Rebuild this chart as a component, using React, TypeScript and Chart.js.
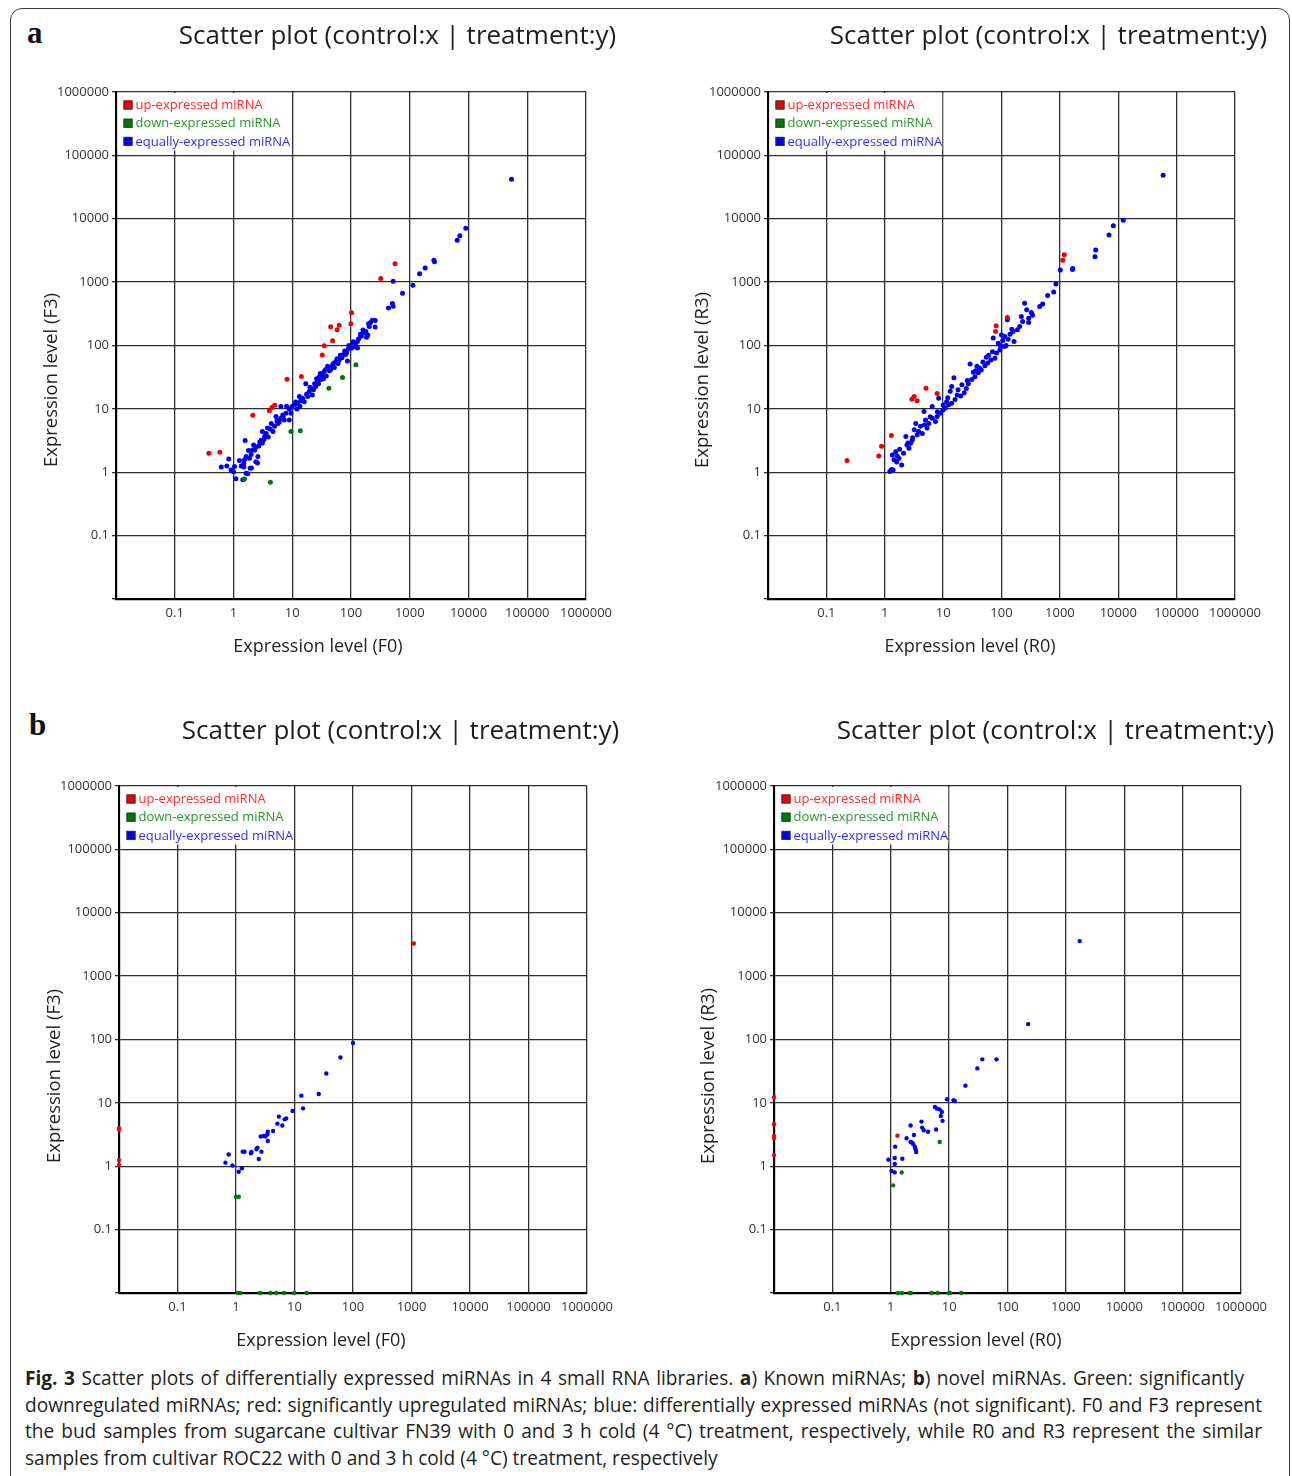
import React, { useEffect, useRef } from 'react';
import { Chart, registerables } from 'chart.js';

Chart.register(...registerables);

type Pt = [number, number];

// ---------- axis, ticks, labels ----------
const AXIS_MIN = 0.01;
const AXIS_MAX = 1000000;
const DECADES = [0.01, 0.1, 1, 10, 100, 1000, 10000, 100000, 1000000];
const DECADE_LABELS = ['', '0.1', '1', '10', '100', '1000', '10000', '100000', '1000000'];
const SERIES_LABELS = ['up-expressed miRNA', 'down-expressed miRNA', 'equally-expressed miRNA'];
const PLOT_TITLE = 'Scatter plot (control:x | treatment:y)';
const X_TITLES = ['Expression level (F0)', 'Expression level (R0)'];
const Y_TITLES = ['Expression level (F3)', 'Expression level (R3)'];

// ---------- (a) known miRNAs, FN39: F0 (x) vs F3 (y) ----------
const knownF_up: Pt[] = [
  [562, 1950], [321, 1143], [102, 328], [99.5, 220], [45, 197], [63, 209], [58, 177], [48.6, 118.5],
  [35, 99], [32.4, 71], [14.3, 32.4], [8.15, 29.4], [5.03, 11.4], [4.53, 10.6], [4.08, 9.3],
  [2.13, 7.94], [0.586, 2.07], [0.381, 1.995],
];
const knownF_down: Pt[] = [
  [121, 49.5], [71.8, 31.2], [42, 21.2], [13.7, 4.5], [9.5, 4.39], [1.54, 0.785], [4.25, 0.695],
];
const knownF_equal: Pt[] = [
  [53900, 41900], [9000, 7060], [7110, 5410], [6430, 4560], [2570, 2210], [2640, 2100], [1830, 1670],
  [1470, 1360], [1130, 891], [753, 666], [522, 1030], [508, 458], [522, 415], [435, 390],
  [258, 248], [258, 195], [199, 220], [179, 166], [193, 147], [184, 135], [167, 157], [129, 116],
  [121, 109], [113, 96], [129, 91], [103, 91], [99.5, 96], [84, 76], [87, 57], [72, 71], [63, 59],
  [55, 56], [47, 47], [40, 47], [43, 40], [35, 39], [33, 34], [29, 32], [31, 29], [27, 27], [24, 25],
  [25, 22.5], [21, 21], [19.5, 18.8], [22, 16.6], [18.3, 15.7], [15, 14.7], [16, 13], [13.2, 15.7],
  [12.4, 12.3], [10.9, 11.6], [9.9, 10.9], [8.9, 9.9], [9.5, 8.5], [7.8, 8.5], [6.9, 8.0], [8.9, 6.7],
  [7.3, 6.7], [6.4, 7.1], [5.7, 5.9], [5.0, 5.3], [4.7, 4.4], [4.4, 5.9], [3.8, 5.0], [3.6, 4.1],
  [3.4, 3.7], [3.1, 4.4], [2.95, 3.2], [3.1, 2.9], [2.8, 3.0], [2.4, 2.5], [2.3, 2.25], [2.6, 1.77],
  [2.4, 1.47], [2.1, 2.25], [1.87, 1.66], [1.64, 1.77], [1.58, 3.16], [1.54, 1.57], [1.26, 1.53],
  [1.92, 1.16], [1.64, 0.96], [1.44, 0.76], [1.04, 1.23], [1.0, 1.02], [0.83, 1.62], [0.77, 1.26],
  [0.62, 1.21], [0.91, 1.09], [1.5, 1.39], [1.35, 1.26], [6.4, 10.9], [5.3, 7.6], [17, 25],
  [1.1, 0.79], [2.56, 1.4], [1.5, 1.21], [1.75, 0.95], [2.02, 1.17],
  [11.5, 12.8], [14, 13.5], [17.5, 17], [20, 22], [23, 20], [26, 30], [28, 25], [30, 36], [34, 30],
  [37, 42], [38, 33], [45, 42], [50, 52], [52, 45], [58, 62], [60, 52], [66, 70], [70, 64], [78, 82],
  [80, 72], [90, 88], [92, 100], [105, 103], [110, 115], [135, 128], [145, 150], [150, 140],
  [160, 175], [205, 200], [215, 230], [230, 250], [12, 10], [13.5, 11], [8, 11], [7, 7.5], [6, 6.2],
  [5.5, 6.5], [4.2, 4.8], [3.9, 3.6], [3.3, 3.3], [2.7, 2.6], [2.2, 2.7], [2, 1.9], [1.8, 2.2],
];

// ---------- (a) known miRNAs, ROC22: R0 (x) vs R3 (y) ----------
const knownR_up: Pt[] = [
  [1190, 2710], [1117, 2210], [126, 277], [81, 205], [79, 166], [5.1, 21.2], [7.9, 17.5],
  [3.19, 15.7], [2.92, 14.2], [3.59, 13.4], [1.3, 3.79], [0.88, 2.57], [0.79, 1.81], [0.226, 1.53],
];
const knownR_down: Pt[] = [];
const knownR_equal: Pt[] = [
  [58700, 48500], [12200, 9440], [8240, 7780], [6950, 5550], [4110, 3210], [4000, 2520],
  [1660, 1645], [1645, 1585], [1016, 1553], [857, 933], [783, 697], [617, 617], [507, 451], [451, 413],
  [324, 332], [249, 466], [270, 366], [219, 287], [292, 270], [292, 231], [205, 200], [187, 177],
  [158, 166], [164, 116], [114, 139], [100, 147], [88, 109], [111, 96], [94, 85], [82, 76], [72, 131],
  [77, 63], [66, 59], [58, 53], [52, 48], [45, 41], [40, 37], [38, 47], [29, 51], [35, 32], [31, 29],
  [27, 25], [25, 21], [21, 24], [23, 18], [20, 16], [17.4, 16.6], [15.3, 31], [14, 22.5], [13.2, 19],
  [16, 14], [14, 12.3], [12.4, 11.6], [10.9, 10.3], [9.9, 9.6], [8.4, 14.7], [9.0, 8.5], [7.9, 7.6],
  [7.4, 6.3], [6.5, 10.9], [6.5, 7.1], [5.7, 5.9], [5.0, 6.7], [5.3, 5.0], [4.7, 9.1], [4.4, 4.1],
  [4.1, 5.3], [3.8, 4.4], [3.6, 3.9], [3.2, 4.7], [2.95, 3.2], [2.77, 2.87], [2.6, 2.4], [2.3, 3.66],
  [2.4, 2.7], [2.1, 2.0], [1.95, 1.3], [1.75, 1.66], [1.64, 1.81], [1.54, 2.1], [1.44, 1.57],
  [1.35, 1.88], [1.39, 1.09], [1.3, 1.11], [1.22, 1.03], [3.4, 5.9], [126, 254],
  [60, 70], [70, 80], [95, 100], [105, 120], [130, 125], [140, 150], [120, 100], [48, 55], [33, 38],
  [26, 28], [18, 20], [11.5, 13], [8, 9], [6, 7.5], [4.8, 5.6], [3, 3.5], [2.5, 2.9], [1.8, 2.3],
  [1.6, 1.45], [55, 65], [42, 44], [36, 40], [12, 15], [10, 11.5], [150, 180], [230, 240], [340, 300],
];

// ---------- (b) novel miRNAs, FN39: F0 (x) vs F3 (y); 0 = not detected ----------
const novelF_up: Pt[] = [[1096, 3275], [0, 3.8], [0, 4.0], [0, 1.25], [0, 1.05]];
const novelF_down: Pt[] = [
  [1.0, 0.33], [1.12, 0.33], [1.08, 0], [1.17, 0], [2.57, 0], [3.85, 0], [4.87, 0], [6.6, 0],
  [9.9, 0], [16.1, 0],
];
const novelF_equal: Pt[] = [
  [100, 88], [61, 52], [35, 29], [26, 13.8], [13.1, 13], [14, 8.2], [9.25, 7.45], [5.4, 6.07],
  [7.2, 5.7], [6.8, 5.5], [5.1, 4.7], [6.2, 4.4], [4.3, 3.6], [3.5, 3.5], [3.44, 3.2], [3.2, 2.94],
  [3.5, 2.5], [2.65, 2.94], [3.0, 3.0], [2.33, 1.97], [2.24, 1.85], [2.72, 1.7], [2.45, 1.3],
  [1.84, 1.68], [1.8, 1.6], [1.4, 1.7], [1.3, 1.7], [0.75, 1.53], [0.66, 1.14], [0.87, 1.03],
  [1.26, 0.93], [1.11, 0.82],
];

// ---------- (b) novel miRNAs, ROC22: R0 (x) vs R3 (y); 0 = not detected ----------
const novelR_up: Pt[] = [[1.3, 3.04], [0, 12.3], [0, 4.6], [0, 3.0], [0, 2.8], [0, 1.5]];
const novelR_down: Pt[] = [
  [6.9, 2.42], [1.54, 0.8], [1.1, 0.5], [1.33, 0], [1.56, 0], [2.12, 0], [2.2, 0], [5.0, 0],
  [6.4, 0], [9.9, 0], [10.3, 0], [16.1, 0],
];
const novelR_equal: Pt[] = [
  [1726, 3567], [226, 175], [64.7, 48.6], [37, 48.6], [30.4, 35], [19, 18.7], [11.9, 11], [12.5, 10.7],
  [9.2, 11.4], [5.7, 8.6], [6.2, 8.1], [6.9, 7.9], [7.5, 7.2], [7.2, 6.2], [7.7, 5.2], [6.0, 3.8],
  [3.36, 5.06], [3.45, 4.07], [3.68, 3.7], [4.36, 3.5], [2.19, 4.4], [2.49, 3.12], [1.87, 2.76],
  [2.19, 2.42], [2.33, 2.36], [2.43, 2.22], [2.59, 2.02], [2.66, 1.85], [2.73, 1.68], [1.19, 2.04],
  [1.58, 1.31], [1.17, 1.35], [0.91, 1.27], [1.17, 1.09], [1.03, 0.84], [1.17, 0.8],
];

// ---------- styles ----------
const FONT = '"Open Sans", "DejaVu Sans", sans-serif';
const POINT_COLORS = ['#f00000', '#007a00', '#0000f0'];
const LEGEND_TEXT_COLORS = ['#ff2a2a', '#2a962a', '#2e2eff'];

type Panel = {
  key: string;
  canvas: { left: number; top: number; width: number; height: number };
  plot: { L: number; T: number; R: number; B: number };
  title: { x: number; y: number };
  xTitle: { text: string; x: number; y: number };
  yTitle: { text: string; x: number; y: number };
  radius: number;
  series: Pt[][];
};

const PANELS: Panel[] = [
  {
    key: 'aL',
    canvas: { left: 20, top: 12, width: 640, height: 668 },
    plot: { L: 116, T: 92, R: 586, B: 599 },
    title: { x: 397.5, y: 37 },
    xTitle: { text: X_TITLES[0], x: 318, y: 647 },
    yTitle: { text: Y_TITLES[0], x: 52, y: 380 },
    radius: 2.5,
    series: [knownF_up, knownF_down, knownF_equal],
  },
  {
    key: 'aR',
    canvas: { left: 670, top: 12, width: 618, height: 668 },
    plot: { L: 768, T: 92, R: 1235, B: 599 },
    title: { x: 1048.5, y: 37 },
    xTitle: { text: X_TITLES[1], x: 970, y: 647 },
    yTitle: { text: Y_TITLES[1], x: 703, y: 380 },
    radius: 2.5,
    series: [knownR_up, knownR_down, knownR_equal],
  },
  {
    key: 'bL',
    canvas: { left: 20, top: 700, width: 640, height: 660 },
    plot: { L: 119, T: 786, R: 587, B: 1293 },
    title: { x: 400.5, y: 732 },
    xTitle: { text: X_TITLES[0], x: 321, y: 1341 },
    yTitle: { text: Y_TITLES[0], x: 55, y: 1076 },
    radius: 2.2,
    series: [novelF_up, novelF_down, novelF_equal],
  },
  {
    key: 'bR',
    canvas: { left: 670, top: 700, width: 618, height: 660 },
    plot: { L: 774, T: 786, R: 1241, B: 1293 },
    title: { x: 1055.5, y: 732 },
    xTitle: { text: X_TITLES[1], x: 976, y: 1341 },
    yTitle: { text: Y_TITLES[1], x: 709, y: 1076 },
    radius: 2.2,
    series: [novelR_up, novelR_down, novelR_equal],
  },
];

const decadeLabel = (v: number) => {
  const i = DECADES.findIndex((d) => Math.abs(Math.log10(d) - Math.log10(v)) < 1e-6);
  return i >= 0 ? DECADE_LABELS[i] : '';
};

// values of 0 (not detected) sit on the axis minimum
const toPoint = ([x, y]: Pt) => ({ x: x <= 0 ? AXIS_MIN : x, y: y <= 0 ? AXIS_MIN : y });

const panelTextPlugin = {
  id: 'panelText',
  afterDraw(chart: any, _args: any, opts: any) {
    const ctx = chart.ctx as CanvasRenderingContext2D;
    ctx.save();
    ctx.fillStyle = '#1e1e1e';
    ctx.textAlign = 'center';
    ctx.textBaseline = 'middle';
    ctx.font = `26px ${FONT}`;
    ctx.fillText(opts.title, opts.titleX, opts.titleY);
    ctx.font = `18px ${FONT}`;
    ctx.fillText(opts.xTitle, opts.xTitleX, opts.xTitleY);
    ctx.translate(opts.yTitleX, opts.yTitleY);
    ctx.rotate(-Math.PI / 2);
    ctx.font = `18.5px ${FONT}`;
    ctx.fillText(opts.yTitle, 0, 0);
    ctx.restore();
  },
};

const insideLegendPlugin = {
  id: 'insideLegend',
  afterDraw(chart: any, _args: any, opts: any) {
    const ctx = chart.ctx as CanvasRenderingContext2D;
    const area = chart.chartArea;
    const ds = chart.data.datasets;
    ctx.save();
    ctx.font = `13px ${FONT}`;
    const sx = area.left + opts.dx;
    const y0 = area.top + opts.dy;
    let maxW = 0;
    ds.forEach((d: any) => {
      maxW = Math.max(maxW, ctx.measureText(d.label).width);
    });
    const right = sx + opts.box + opts.gap + maxW;
    const bottom = y0 + (ds.length - 1) * opts.step + opts.step / 2;
    ctx.fillStyle = '#ffffff';
    ctx.fillRect(area.left + 1.5, area.top + 1, right - area.left - 1.5, bottom - area.top - 1);
    ds.forEach((d: any, i: number) => {
      const cy = y0 + i * opts.step;
      ctx.fillStyle = d.backgroundColor;
      ctx.fillRect(sx, cy - opts.box / 2, opts.box, opts.box);
      ctx.strokeStyle = '#333';
      ctx.lineWidth = 1;
      ctx.strokeRect(sx + 0.5, cy - opts.box / 2 + 0.5, opts.box - 1, opts.box - 1);
      ctx.fillStyle = LEGEND_TEXT_COLORS[i];
      ctx.textAlign = 'left';
      ctx.textBaseline = 'middle';
      ctx.fillText(d.label, sx + opts.box + opts.gap, cy + 0.5);
    });
    ctx.restore();
  },
};

function ScatterPanel({ panel }: { panel: Panel }) {
  const ref = useRef<HTMLCanvasElement | null>(null);
  useEffect(() => {
    const c = panel.canvas;
    const p = panel.plot;
    const yAxisWidth = p.L - c.left;
    const xAxisHeight = c.top + c.height - p.B;
    const chart = new Chart(ref.current as HTMLCanvasElement, {
      type: 'scatter',
      data: {
        datasets: panel.series.map((s, i) => ({
          label: SERIES_LABELS[i],
          data: s.map(toPoint),
          backgroundColor: POINT_COLORS[i],
          borderColor: POINT_COLORS[i],
          borderWidth: 0,
          pointRadius: panel.radius,
          pointHoverRadius: panel.radius,
          clip: false as any,
        })),
      },
      plugins: [panelTextPlugin, insideLegendPlugin],
      options: {
        animation: false,
        responsive: false,
        maintainAspectRatio: false,
        events: [],
        layout: {
          padding: { left: 0, top: p.T - c.top, right: c.left + c.width - p.R, bottom: 0 },
        },
        plugins: {
          legend: { display: false },
          tooltip: { enabled: false },
          title: { display: false },
          panelText: {
            title: PLOT_TITLE,
            titleX: panel.title.x - c.left,
            titleY: panel.title.y - c.top,
            xTitle: panel.xTitle.text,
            xTitleX: panel.xTitle.x - c.left,
            xTitleY: panel.xTitle.y - c.top,
            yTitle: panel.yTitle.text,
            yTitleX: panel.yTitle.x - c.left,
            yTitleY: panel.yTitle.y - c.top,
          },
          insideLegend: { dx: 7.5, dy: 13, step: 18.2, box: 9, gap: 3 },
        } as any,
        scales: {
          x: {
            type: 'logarithmic',
            position: 'bottom',
            min: AXIS_MIN,
            max: AXIS_MAX,
            afterBuildTicks: (s: any) => {
              s.ticks = DECADES.map((v) => ({ value: v }));
            },
            afterFit: (s: any) => {
              s.height = xAxisHeight;
              s.paddingLeft = 0;
              s.paddingRight = 0;
            },
            ticks: {
              callback: (v: any) => decadeLabel(Number(v)),
              autoSkip: false,
              maxRotation: 0,
              minRotation: 0,
              padding: 6,
              color: '#333',
              font: { family: FONT, size: 13 },
            },
            grid: { color: '#2e2e2e', lineWidth: 1.3, drawTicks: false },
            border: { color: '#000', width: 2.2 },
          } as any,
          y: {
            type: 'logarithmic',
            position: 'left',
            min: AXIS_MIN,
            max: AXIS_MAX,
            afterBuildTicks: (s: any) => {
              s.ticks = DECADES.map((v) => ({ value: v }));
            },
            afterFit: (s: any) => {
              s.width = yAxisWidth;
              s.paddingTop = 0;
              s.paddingBottom = 0;
            },
            ticks: {
              callback: (v: any) => decadeLabel(Number(v)),
              autoSkip: false,
              padding: 3,
              color: '#333',
              font: { family: FONT, size: 13 },
            },
            grid: { color: '#2e2e2e', lineWidth: 1.3, drawTicks: true, tickLength: 4 },
            border: { color: '#000', width: 2.2 },
          } as any,
        },
      },
    });
    return () => chart.destroy();
  }, [panel]);
  const c = panel.canvas;
  return (
    <canvas
      ref={ref}
      width={c.width}
      height={c.height}
      style={{ position: 'absolute', left: c.left, top: c.top, width: c.width, height: c.height }}
    />
  );
}

const captionLine: React.CSSProperties = {
  position: 'absolute',
  left: 25,
  height: 26,
  lineHeight: '26px',
  fontSize: 19.1,
  fontFamily: FONT,
  color: '#231f20',
  textAlign: 'justify',
  textAlignLast: 'justify' as any,
  whiteSpace: 'nowrap',
};

export default function App() {
  return (
    <div
      style={{
        position: 'absolute',
        left: 0,
        top: 0,
        width: 1292,
        height: 1476,
        overflow: 'hidden',
        background: '#fff',
      }}
    >
      <div
        style={{
          position: 'absolute',
          left: 10,
          top: 8,
          width: 1278,
          height: 1540,
          border: '1.5px solid #3a3a3a',
          borderRadius: 12,
        }}
      />
      <div style={{ position: 'absolute', left: 27, top: 15, font: 'bold 31px "Liberation Serif", serif', color: '#111' }}>a</div>
      <div style={{ position: 'absolute', left: 29, top: 707, font: 'bold 31px "Liberation Serif", serif', color: '#111' }}>b</div>
      {PANELS.map((p) => (
        <ScatterPanel key={p.key} panel={p} />
      ))}
      <div style={{ ...captionLine, top: 1365, width: 1219 }}>
        <b>Fig. 3</b> Scatter plots of differentially expressed miRNAs in 4 small RNA libraries. <b>a</b>) Known miRNAs; <b>b</b>) novel miRNAs. Green: significantly
      </div>
      <div style={{ ...captionLine, top: 1392, width: 1237 }}>
        downregulated miRNAs; red: significantly upregulated miRNAs; blue: differentially expressed miRNAs (not significant). F0 and F3 represent
      </div>
      <div style={{ ...captionLine, top: 1418, width: 1237 }}>
        the bud samples from sugarcane cultivar FN39 with 0 and 3 h cold (4 °C) treatment, respectively, while R0 and R3 represent the similar
      </div>
      <div style={{ ...captionLine, top: 1445, width: 1237, textAlignLast: 'left' as any, textAlign: 'left' }}>
        samples from cultivar ROC22 with 0 and 3 h cold (4 °C) treatment, respectively
      </div>
    </div>
  );
}
